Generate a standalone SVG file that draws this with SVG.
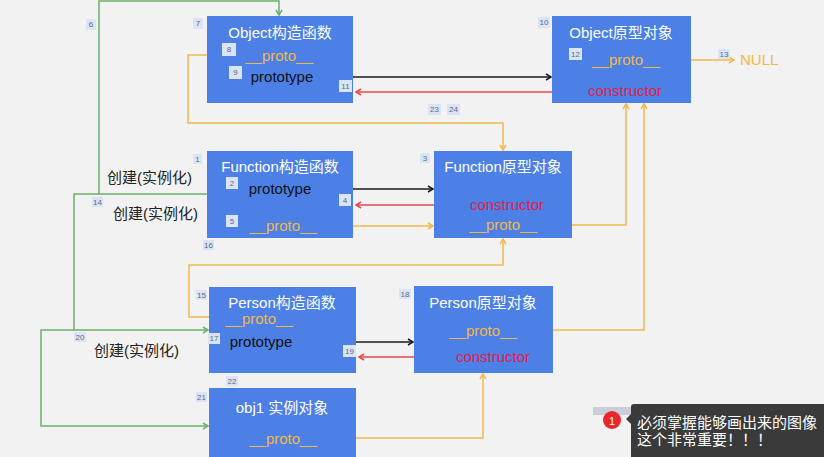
<svg xmlns="http://www.w3.org/2000/svg" width="824" height="457" viewBox="0 0 824 457">
<style>
text{font-family:"Liberation Sans","Noto Sans CJK SC",sans-serif}
.box{fill:#4c80e6}
.title{fill:#ffffff;font-size:15px;text-anchor:middle}
.proto{fill:#f2b845;font-size:15px;text-anchor:middle}
.ptype{fill:#111111;font-size:15px;text-anchor:middle}
.ctor{fill:#e0204a;font-size:15px;text-anchor:middle}
.lbl rect{fill:#dae4f4}
.lbl text{fill:#5a6a88;font-size:8px;text-anchor:middle}
.cn{fill:#222222;font-size:15px}
.g{fill:none;stroke:#6db06e;stroke-width:1.5}
.o{fill:none;stroke:#f2b84b;stroke-width:1.5}
.k{fill:none;stroke:#1a1a1a;stroke-width:1.5}
.r{fill:none;stroke:#e8474f;stroke-width:1.5}
</style>
<defs>
<marker id="ag" markerWidth="8" markerHeight="8" refX="6" refY="4" orient="auto" markerUnits="userSpaceOnUse"><path d="M1,1 L6,4 L1,7" fill="none" stroke="#6db06e" stroke-width="1.5"/></marker>
<marker id="ao" markerWidth="8" markerHeight="8" refX="6" refY="4" orient="auto" markerUnits="userSpaceOnUse"><path d="M1,1 L6,4 L1,7" fill="none" stroke="#f2b84b" stroke-width="1.5"/></marker>
<marker id="ak" markerWidth="8" markerHeight="8" refX="6" refY="4" orient="auto" markerUnits="userSpaceOnUse"><path d="M1,1 L6,4 L1,7" fill="none" stroke="#1a1a1a" stroke-width="1.5"/></marker>
<marker id="ar" markerWidth="8" markerHeight="8" refX="6" refY="4" orient="auto" markerUnits="userSpaceOnUse"><path d="M1,1 L6,4 L1,7" fill="none" stroke="#e8474f" stroke-width="1.5"/></marker>
</defs>
<rect width="824" height="457" fill="#f2f2f2"/>

<g id="connectors">
<!-- green creation lines -->
<polyline class="g" points="207,194 99,194 99,1 279,1 279,15" marker-end="url(#ag)"/>
<polyline class="g" points="99,194 74,194 74,330 208,330" marker-end="url(#ag)"/>
<polyline class="g" points="74,330 41,330 41,426 208,426" marker-end="url(#ag)"/>
<!-- Object ctor -->
<line class="k" x1="323" y1="77" x2="551" y2="77" marker-end="url(#ak)"/>
<line class="r" x1="585" y1="92" x2="356" y2="92" marker-end="url(#ar)"/>
<polyline class="o" points="222,55 188,55 188,123 503,123 503,150" marker-end="url(#ao)"/>
<line class="o" x1="668" y1="60" x2="734" y2="60" marker-end="url(#ao)"/>
<!-- Function ctor -->
<line class="k" x1="318" y1="189" x2="433" y2="189" marker-end="url(#ak)"/>
<line class="r" x1="462" y1="205" x2="356" y2="205" marker-end="url(#ar)"/>
<line class="o" x1="319" y1="226" x2="433" y2="226" marker-end="url(#ao)"/>
<polyline class="o" points="545,225 626,225 626,104" marker-end="url(#ao)"/>
<!-- Person -->
<polyline class="o" points="218,317 189,317 189,265 503,265 503,239" marker-end="url(#ao)"/>
<line class="k" x1="302" y1="342" x2="413" y2="342" marker-end="url(#ak)"/>
<line class="r" x1="447" y1="357" x2="359" y2="357" marker-end="url(#ar)"/>
<polyline class="o" points="525,330 644,330 644,104" marker-end="url(#ao)"/>
<polyline class="o" points="324,438 483,438 483,374" marker-end="url(#ao)"/>
</g>

<g id="object-ctor">
<rect class="box" x="207" y="16" width="146" height="87"/>
<text class="title" x="280" y="38">Object构造函数</text>
<text class="proto" x="279" y="61">__proto__</text>
<text class="ptype" x="282" y="82">prototype</text>
</g>
<g id="object-proto">
<rect class="box" x="552" y="16" width="139" height="87"/>
<text class="title" x="621" y="38">Object原型对象</text>
<text class="proto" x="626" y="65">__proto__</text>
<text class="ctor" x="625" y="96">constructor</text>
</g>
<g id="null">
<text x="740" y="65" fill="#f2b845" font-size="15">NULL</text>
</g>
<g id="function-ctor">
<rect class="box" x="207" y="151" width="146" height="87"/>
<text class="title" x="280" y="172">Function构造函数</text>
<text class="ptype" x="280" y="194">prototype</text>
<text class="proto" x="283" y="231">__proto__</text>
</g>
<g id="function-proto">
<rect class="box" x="434" y="151" width="138" height="87"/>
<text class="title" x="503" y="172">Function原型对象</text>
<text class="ctor" x="507" y="210">constructor</text>
<text class="proto" x="503" y="230">__proto__</text>
</g>
<g id="person-ctor">
<rect class="box" x="209" y="287" width="147" height="86"/>
<text class="title" x="282" y="308">Person构造函数</text>
<text class="proto" x="259" y="324">__proto__</text>
<text class="ptype" x="261" y="347">prototype</text>
</g>
<g id="person-proto">
<rect class="box" x="414" y="286" width="139" height="87"/>
<text class="title" x="483" y="308">Person原型对象</text>
<text class="proto" x="483" y="336">__proto__</text>
<text class="ctor" x="493" y="362">constructor</text>
</g>
<g id="obj1">
<rect class="box" x="209" y="388" width="147" height="72"/>
<text class="title" x="282" y="413">obj1 实例对象</text>
<text class="proto" x="283" y="444">__proto__</text>
</g>

<g id="create-labels">
<text class="cn" x="107" y="183">创建(实例化)</text>
<text class="cn" x="113" y="219">创建(实例化)</text>
<text class="cn" x="94" y="356">创建(实例化)</text>
</g>

<g id="badges" class="lbl">
<rect x="193" y="154" width="9" height="10"/><text x="197.5" y="162">1</text>
<rect x="226" y="177" width="12" height="12"/><text x="232" y="186">2</text>
<rect x="420" y="153" width="10" height="10"/><text x="425" y="161">3</text>
<rect x="339" y="194" width="12" height="12"/><text x="345" y="203">4</text>
<rect x="226" y="215" width="12" height="12"/><text x="232" y="224">5</text>
<rect x="86" y="19" width="10" height="11"/><text x="91" y="27">6</text>
<rect x="193" y="18" width="10" height="11"/><text x="198" y="26">7</text>
<rect x="222" y="43" width="14" height="13"/><text x="229" y="52">8</text>
<rect x="229" y="66" width="13" height="13"/><text x="235.5" y="75">9</text>
<rect x="538" y="17" width="12" height="11"/><text x="544" y="25">10</text>
<rect x="339" y="80" width="13" height="12"/><text x="345.5" y="89">11</text>
<rect x="569" y="48" width="13" height="12"/><text x="575.5" y="57">12</text>
<rect x="718" y="49" width="12" height="10"/><text x="724" y="57">13</text>
<rect x="92" y="197" width="11" height="10"/><text x="97.5" y="205">14</text>
<rect x="196" y="290" width="11" height="10"/><text x="201.5" y="298">15</text>
<rect x="203" y="240" width="11" height="10"/><text x="208.5" y="248">16</text>
<rect x="208" y="333" width="12" height="11"/><text x="214" y="341">17</text>
<rect x="399" y="289" width="12" height="10"/><text x="405" y="297">18</text>
<rect x="343" y="345" width="13" height="12"/><text x="349.5" y="354">19</text>
<rect x="74" y="332" width="12" height="10"/><text x="80" y="340">20</text>
<rect x="196" y="392" width="11" height="10"/><text x="201.5" y="400">21</text>
<rect x="226" y="376" width="12" height="10"/><text x="232" y="384">22</text>
<rect x="428" y="104" width="13" height="11"/><text x="434.5" y="112">23</text>
<rect x="447" y="104" width="13" height="11"/><text x="453.5" y="112">24</text>
</g>

<g id="tooltip">
<rect x="593" y="407" width="40" height="8" fill="#c9ced8"/>
<rect x="631" y="404" width="200" height="60" rx="3" fill="#3a3a3a"/>
<polygon points="631,414 626,419 631,424" fill="#3a3a3a"/>
<circle cx="612" cy="420" r="9" fill="#e8262b"/>
<text x="612" y="424.5" fill="#ffffff" font-size="11" text-anchor="middle">1</text>
<text x="637" y="428" fill="#ffffff" font-size="15">必须掌握能够画出来的图像</text>
<text x="637" y="445" fill="#ffffff" font-size="15">这个非常重要！！！</text>
</g>
</svg>
